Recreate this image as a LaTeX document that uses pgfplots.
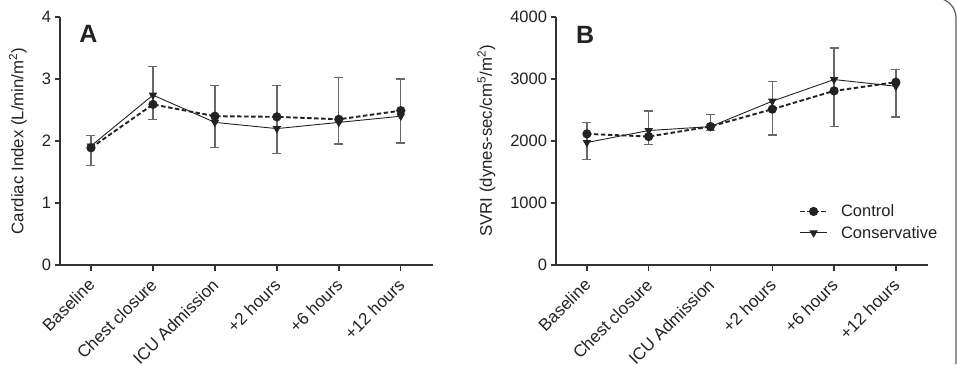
\documentclass[border=0pt]{standalone}
\usepackage{pgfplots}
\pgfplotsset{compat=1.18}
\usepackage{pgfplotstable}
\usepackage{fontspec}
\setmainfont{Liberation Sans}

\definecolor{ink}{HTML}{222222}
\definecolor{axisgray}{HTML}{333333}
\definecolor{bargray}{HTML}{686868}

% columns: time point, control mean, conservative mean, error bar top/bottom offsets (from control)
\pgfplotstableread{
x ctrl cons ep em
0 1.89 1.92 0.20 0.29
1 2.59 2.74 0.61 0.24
2 2.40 2.30 0.50 0.50
3 2.39 2.20 0.51 0.59
4 2.35 2.30 0.67 0.40
5 2.49 2.40 0.51 0.52
}\ciData

\pgfplotstableread{
x ctrl cons ep em
0 2115 1976 183 413
1 2072 2169 414 134
2 2234 2232 193 60
3 2513 2642 451 414
4 2808 2991 693 569
5 2948 2883 204 559
}\svriData

\pgfplotsset{
  panel/.style={
    scale only axis,
    width=372pt, height=248pt,
    axis x line=bottom, axis y line=left,
    axis line style={axisgray, line width=1.6pt, -},
    xmin=-0.5, xmax=5.52,
    xtick={0,1,2,3,4,5},
    xticklabels={Baseline,Chest closure,ICU Admission,+2 hours,+6 hours,+12 hours},
    xticklabel style={xshift=3pt, yshift=-9pt, rotate=45, anchor=east,
      font=\fontsize{17}{20}\selectfont, text=ink},
    yticklabel style={font=\fontsize{16.5}{20}\selectfont, text=ink},
    tick style={axisgray, line width=1.4pt},
    tick align=outside,
    major tick length=5.5pt,
    /pgf/number format/assume math mode=true,
    /pgf/number format/1000 sep={},
    ylabel style={rotate=0, anchor=center, font=\fontsize{16.8}{20}\selectfont, text=ink},
    clip=false,
  },
  ctrl/.style={ink, line width=1.9pt, dash pattern=on 4.5pt off 2.5pt,
    mark=*, mark size=3.6pt, mark options={solid, fill=ink, draw=ink}},
  cons/.style={ink, line width=0.9pt,
    mark=triangle*, mark size=4pt, mark options={solid, rotate=180, fill=ink, draw=ink}},
  bars/.style={draw=none, mark=none, forget plot,
    error bars/.cd, y dir=both, y explicit,
    error bar style={bargray, line width=1.3pt},
    error mark options={rotate=90, mark size=4.5pt, bargray, line width=1.3pt}},
}

\begin{document}
\begin{tikzpicture}
\path[use as bounding box] (0,0) rectangle (957pt,364pt);

% Panel A: cardiac index
\begin{axis}[panel,
  at={(60pt,99pt)}, anchor=south west,
  width=373pt,
  ymin=0, ymax=4, ytick={0,1,2,3,4},
  ylabel={Cardiac Index (L/min/m\textsuperscript{2})},
  ylabel style={at={(axis description cs:-0.113,0.5)}},
]
\addplot[bars] table[x=x, y=ctrl, y error plus=ep, y error minus=em] {\ciData};
\addplot[cons] table[x=x, y=cons] {\ciData};
\addplot[ctrl] table[x=x, y=ctrl] {\ciData};
\node[font=\fontsize{25}{30}\selectfont\bfseries, text=ink] at (axis cs:-0.04,3.73) {A};
\end{axis}

% Panel B: systemic vascular resistance index
\begin{axis}[panel,
  at={(556pt,99pt)}, anchor=south west,
  ymin=0, ymax=4000, ytick={0,1000,2000,3000,4000},
  ylabel={SVRI (dynes-sec/cm\textsuperscript{5}/m\textsuperscript{2})},
  ylabel style={at={(axis description cs:-0.187,0.5)}},
  legend style={draw=none, fill=none, at={(rel axis cs:0.645,0.26)}, anchor=north west,
    font=\fontsize{16.5}{20}\selectfont, text=ink, row sep=4pt,
    cells={anchor=west}},
  legend image code/.code={\draw[mark repeat=2, mark phase=2, #1] plot coordinates {(0pt,0pt) (13.5pt,0pt) (27pt,0pt)};
    \path (38pt,0pt);},
  legend cell align=left,
]
\addplot[bars] table[x=x, y=ctrl, y error plus=ep, y error minus=em] {\svriData};
\addplot[ctrl] table[x=x, y=ctrl] {\svriData};
\addlegendentry{Control}
\addplot[cons] table[x=x, y=cons] {\svriData};
\addlegendentry{Conservative}
\node[font=\fontsize{25}{30}\selectfont\bfseries, text=ink] at (axis cs:-0.03,3710) {B};
\end{axis}

% edge of the surrounding frame
\draw[axisgray!80, line width=1.2pt] (936pt,366pt) arc[start angle=90, end angle=0, radius=20pt] -- (956pt,0pt);
\end{tikzpicture}
\end{document}
